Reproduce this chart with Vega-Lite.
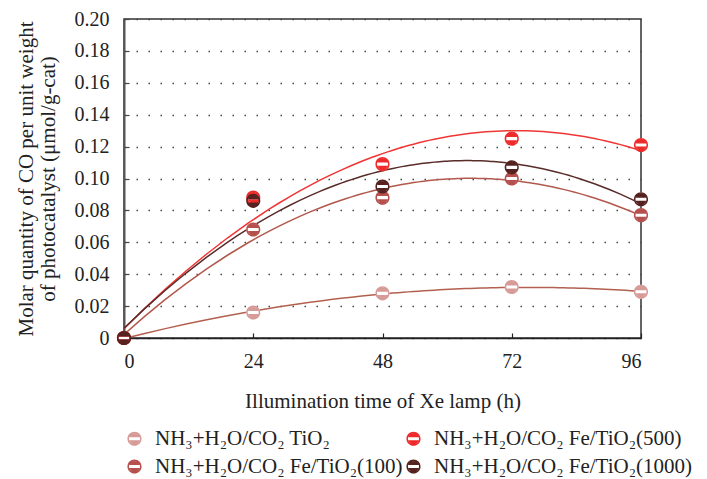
{
  "$schema": "https://vega.github.io/schema/vega-lite/v6.json",
  "autosize": {"type": "none"},
  "width": 517,
  "height": 319,
  "padding": {"left": 124, "top": 19, "right": 66, "bottom": 141},
  "config": {
    "font": "Liberation Serif",
    "view": {"stroke": "#333", "strokeWidth": 1.5},
    "axis": {"labelFont": "Liberation Serif", "titleFont": "Liberation Serif", "labelColor": "#222", "titleColor": "#222", "titleFontWeight": "normal"}
  },
  "data": {"values": [
    {"series": "NH₃+H₂O/CO₂ TiO₂", "t": 0, "v": 0},
    {"series": "NH₃+H₂O/CO₂ TiO₂", "t": 24, "v": 0.016},
    {"series": "NH₃+H₂O/CO₂ TiO₂", "t": 48, "v": 0.028},
    {"series": "NH₃+H₂O/CO₂ TiO₂", "t": 72, "v": 0.032},
    {"series": "NH₃+H₂O/CO₂ TiO₂", "t": 96, "v": 0.029},
    {"series": "NH₃+H₂O/CO₂ Fe/TiO₂(100)", "t": 0, "v": 0},
    {"series": "NH₃+H₂O/CO₂ Fe/TiO₂(100)", "t": 24, "v": 0.068},
    {"series": "NH₃+H₂O/CO₂ Fe/TiO₂(100)", "t": 48, "v": 0.088},
    {"series": "NH₃+H₂O/CO₂ Fe/TiO₂(100)", "t": 72, "v": 0.100},
    {"series": "NH₃+H₂O/CO₂ Fe/TiO₂(100)", "t": 96, "v": 0.077},
    {"series": "NH₃+H₂O/CO₂ Fe/TiO₂(500)", "t": 0, "v": 0},
    {"series": "NH₃+H₂O/CO₂ Fe/TiO₂(500)", "t": 24, "v": 0.088},
    {"series": "NH₃+H₂O/CO₂ Fe/TiO₂(500)", "t": 48, "v": 0.109},
    {"series": "NH₃+H₂O/CO₂ Fe/TiO₂(500)", "t": 72, "v": 0.125},
    {"series": "NH₃+H₂O/CO₂ Fe/TiO₂(500)", "t": 96, "v": 0.121},
    {"series": "NH₃+H₂O/CO₂ Fe/TiO₂(1000)", "t": 0, "v": 0},
    {"series": "NH₃+H₂O/CO₂ Fe/TiO₂(1000)", "t": 24, "v": 0.086},
    {"series": "NH₃+H₂O/CO₂ Fe/TiO₂(1000)", "t": 48, "v": 0.095},
    {"series": "NH₃+H₂O/CO₂ Fe/TiO₂(1000)", "t": 72, "v": 0.107},
    {"series": "NH₃+H₂O/CO₂ Fe/TiO₂(1000)", "t": 96, "v": 0.087}
  ]},
  "layer": [
    {
      "transform": [{"regression": "v", "on": "t", "groupby": ["series"], "method": "poly", "order": 2, "extent": [0, 96]}],
      "mark": {"type": "line", "strokeWidth": 1.5, "clip": true},
      "encoding": {
        "x": {"field": "t", "type": "quantitative"},
        "y": {"field": "v", "type": "quantitative"},
        "detail": {"field": "series"},
        "color": {"field": "series", "type": "nominal", "legend": null,
          "scale": {"domain": ["NH₃+H₂O/CO₂ TiO₂", "NH₃+H₂O/CO₂ Fe/TiO₂(500)", "NH₃+H₂O/CO₂ Fe/TiO₂(100)", "NH₃+H₂O/CO₂ Fe/TiO₂(1000)"],
                    "range": ["#b2604f", "#f03535", "#b2584c", "#5a2c29"]}}
      }
    },
    {
      "mark": {"type": "point", "shape": "circle", "filled": true, "fill": "white", "size": 190, "opacity": 1},
      "encoding": {
        "x": {"field": "t", "type": "quantitative"},
        "y": {"field": "v", "type": "quantitative"}
      }
    },
    {
      "mark": {"type": "point", "filled": true, "opacity": 1, "size": 200,
        "shape": "M -1 0 A 1 1 0 1 1 1 0 A 1 1 0 1 1 -1 0 Z M -0.78 0 A 0.78 0.78 0 1 0 0.78 0 A 0.78 0.78 0 1 0 -0.78 0 Z M -0.748 -0.22 A 0.78 0.78 0 0 1 0.748 -0.22 Z M 0.748 0.22 A 0.78 0.78 0 0 1 -0.748 0.22 Z"},
      "encoding": {
        "x": {"field": "t", "type": "quantitative",
          "scale": {"domain": [0, 96], "nice": false},
          "axis": {"values": [0, 24, 48, 72, 96], "tickCount": 10, "title": "Illumination time of Xe lamp (h)", "grid": false,
            "labelFontSize": 20, "titleFontSize": 21, "tickSize": -5, "tickColor": "#222", "tickWidth": 1.2,
            "domainColor": "#222", "domainWidth": 1.5, "labelPadding": 18, "titlePadding": 19, "labelOverlap": false}},
        "y": {"field": "v", "type": "quantitative",
          "scale": {"domain": [0, 0.2], "nice": false},
          "axis": {"values": [0, 0.02, 0.04, 0.06, 0.08, 0.1, 0.12, 0.14, 0.16, 0.18, 0.2], "tickCount": 20,
            "labelExpr": "datum.value == 0 ? '0' : format(datum.value, '.2f')", "labelOverlap": false,
            "title": ["Molar quantity of CO per unit weight", "of photocatalyst (μmol/g-cat)"],
            "labelFontSize": 20, "titleFontSize": 21, "tickSize": -5, "tickColor": "#444", "tickWidth": 1.2,
            "domainColor": "#555", "domainWidth": 2, "labelPadding": 20, "titlePadding": 16, "titleLineHeight": 22,
            "grid": true, "gridColor": "#444", "gridDash": [1.5, 10.5], "gridWidth": 1.5}},
        "color": {"field": "series", "type": "nominal",
          "scale": {"domain": ["NH₃+H₂O/CO₂ TiO₂", "NH₃+H₂O/CO₂ Fe/TiO₂(500)", "NH₃+H₂O/CO₂ Fe/TiO₂(100)", "NH₃+H₂O/CO₂ Fe/TiO₂(1000)"],
                    "range": ["#d79b97", "#ee2a2a", "#b5504d", "#55221f"]},
          "legend": {"title": null, "orient": "bottom", "columns": 2, "labelFontSize": 21, "labelFont": "Liberation Serif", "labelColor": "#222", "labelLimit": 400,
            "symbolSize": 200, "symbolType": "M -1 0 A 1 1 0 1 1 1 0 A 1 1 0 1 1 -1 0 Z M -0.78 0 A 0.78 0.78 0 1 0 0.78 0 A 0.78 0.78 0 1 0 -0.78 0 Z M -0.748 -0.22 A 0.78 0.78 0 0 1 0.748 -0.22 Z M 0.748 0.22 A 0.78 0.78 0 0 1 -0.748 0.22 Z",
            "symbolOpacity": 1, "rowPadding": 6, "columnPadding": 0, "labelOffset": 10, "offset": 17}}
      }
    }
  ],
  "resolve": {"scale": {"color": "independent"}}
}
